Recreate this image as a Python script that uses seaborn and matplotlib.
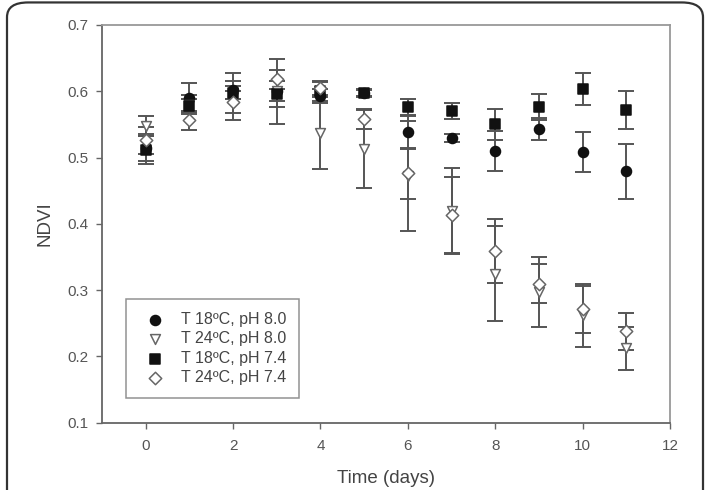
import numpy as np
import pandas as pd
import matplotlib
matplotlib.use("Agg")
import matplotlib.pyplot as plt
import seaborn as sns
from matplotlib.patches import FancyBboxPatch

sns.set_theme(style="white")
plt.rcParams['font.family'] = ['Liberation Sans', 'DejaVu Sans']

days = [0, 1, 2, 3, 4, 5, 6, 7, 8, 9, 10, 11]

labels = ["T 18ºC, pH 8.0", "T 24ºC, pH 8.0", "T 18ºC, pH 7.4", "T 24ºC, pH 7.4"]

t18_ph80 = [0.515, 0.590, 0.602, 0.600, 0.593, 0.597, 0.538, 0.529, 0.510, 0.543, 0.508, 0.479]
t18_ph80_err = [0.020, 0.022, 0.013, 0.015, 0.010, 0.005, 0.025, 0.006, 0.030, 0.017, 0.030, 0.041]

t24_ph80 = [0.547, 0.580, 0.592, 0.600, 0.537, 0.513, 0.472, 0.420, 0.325, 0.297, 0.262, 0.212]
t24_ph80_err = [0.015, 0.015, 0.035, 0.049, 0.055, 0.059, 0.083, 0.065, 0.072, 0.053, 0.048, 0.032]

t18_ph74 = [0.511, 0.578, 0.598, 0.596, 0.600, 0.598, 0.576, 0.570, 0.550, 0.576, 0.603, 0.572]
t18_ph74_err = [0.021, 0.010, 0.010, 0.020, 0.014, 0.005, 0.012, 0.012, 0.024, 0.020, 0.024, 0.029]

t24_ph74 = [0.526, 0.556, 0.584, 0.618, 0.605, 0.558, 0.476, 0.413, 0.359, 0.310, 0.271, 0.238]
t24_ph74_err = [0.020, 0.015, 0.017, 0.014, 0.010, 0.015, 0.038, 0.057, 0.048, 0.030, 0.035, 0.028]

series = [
    (labels[0], t18_ph80, t18_ph80_err, 'o', '#111111', '#111111', 52),
    (labels[1], t24_ph80, t24_ph80_err, 'v', 'white', '#666666', 50),
    (labels[2], t18_ph74, t18_ph74_err, 's', '#111111', '#111111', 42),
    (labels[3], t24_ph74, t24_ph74_err, 'D', 'white', '#666666', 40),
]

rows = []
for lab, vals, errs, *_ in series:
    for d, v, e in zip(days, vals, errs):
        rows.append({"Day": d, "NDVI": v, "err": e, "group": lab})
df = pd.DataFrame(rows)

fig = plt.figure(figsize=(7.07, 4.90), dpi=100)
ax = fig.add_axes([0.1443, 0.1373, 0.8034, 0.8117])

# error bars
for lab, vals, errs, m, fc, ec, s in series:
    sub = df[df.group == lab]
    ax.errorbar(sub.Day, sub.NDVI, yerr=sub.err, fmt='none', ecolor='#555555',
                elinewidth=1.4, capsize=5.5, capthick=1.4, zorder=2)

for lab, vals, errs, m, fc, ec, s in series:
    sub = df[df.group == lab]
    sns.scatterplot(data=sub, x="Day", y="NDVI", marker=m, s=s, color=fc,
                    edgecolor=ec, linewidth=1.1, label=lab, ax=ax, zorder=3)

ax.set_xlim(-1, 12)
ax.set_ylim(0.1, 0.7)
ax.set_xticks([0, 2, 4, 6, 8, 10, 12])
ax.set_yticks([0.1, 0.2, 0.3, 0.4, 0.5, 0.6, 0.7])
ax.set_yticklabels(["0.1", "0.2", "0.3", "0.4", "0.5", "0.6", "0.7"])
ax.tick_params(axis='both', direction='out', length=4, width=1, color='#666666',
               labelcolor='#555555', labelsize=11, pad=6, bottom=True, left=True)
ax.tick_params(axis='x', pad=8)
ax.set_xlabel("Time (days)", fontsize=13.5, color='#444444', labelpad=12)
ax.set_ylabel("NDVI", fontsize=13.5, color='#444444', labelpad=10)

for side in ['left', 'bottom']:
    ax.spines[side].set_color('#666666')
    ax.spines[side].set_linewidth(1.3)
for side in ['top', 'right']:
    ax.spines[side].set_color('#999999')
    ax.spines[side].set_linewidth(1.3)

leg = ax.legend(loc='lower left', bbox_to_anchor=(0.042, 0.062), borderaxespad=0,
                frameon=True, fancybox=False, fontsize=11.5, labelcolor='#444444',
                handletextpad=0.56, borderpad=0.8, labelspacing=0.28,
                handlelength=2.1)
leg.get_frame().set_edgecolor('#777777')
leg.get_frame().set_linewidth(1.1)

# outer rounded frame of the figure panel
frame = FancyBboxPatch((7 / 707, -0.05), 696 / 707, 1.045,
                       boxstyle="round,pad=0,rounding_size=0.03",
                       transform=fig.transFigure, fill=False,
                       edgecolor='#333333', linewidth=1.6, zorder=10)
fig.patches.append(frame)

fig.savefig("out.png", dpi=100)
